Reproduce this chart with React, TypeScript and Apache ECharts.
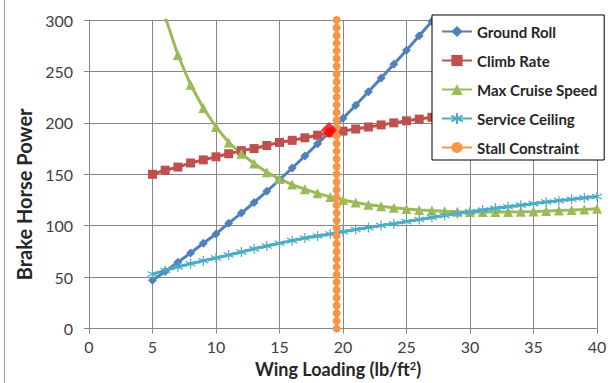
import React, { useEffect, useRef } from "react";
import * as echarts from "echarts";

const xTicks = [0, 5, 10, 15, 20, 25, 30, 35, 40];

const groundRollX = [5, 6, 7, 8, 9, 10, 11, 12, 13, 14, 15, 16, 17, 18, 19, 20, 21, 22, 23, 24, 25, 26, 27, 28];
const groundRollY = [47, 55.5, 64.5, 73.5, 83, 92, 102.5, 112.3, 122.6, 133.5, 144.7, 156.1, 167.8, 179.8, 192, 204.5, 217.2, 230.2, 243.5, 257, 270.7, 284.6, 298.7, 313];

const loadingX = [5, 6, 7, 8, 9, 10, 11, 12, 13, 14, 15, 16, 17, 18, 19, 20, 21, 22, 23, 24, 25, 26, 27, 28, 29, 30, 31, 32, 33, 34, 35, 36, 37, 38, 39, 40];
const climbRateY = [150, 154, 157, 161, 164, 167, 170, 173, 175, 178, 181, 183, 185.5, 188, 190.5, 192, 194, 196, 198, 200, 202, 203.7, 205.4, 207, 208.6, 210.2, 211.8, 213.3, 214.8, 216.3, 217.8, 219.3, 220.8, 222.3, 223.8, 225.5];
const maxCruiseY = [350, 303, 266, 237, 214.5, 196, 181, 170, 160.5, 152, 145.5, 140, 135.5, 131.5, 128, 125, 122.5, 120.5, 119, 117.5, 116.3, 115.4, 114.7, 114.1, 113.7, 113.4, 113.3, 113.3, 113.4, 113.6, 113.9, 114.3, 114.8, 115.3, 115.9, 116.6];
const serviceCeilingY = [53, 56.5, 60, 63, 66, 68.7, 71.5, 74.5, 77.5, 80.3, 83, 85.5, 88, 90, 92, 94.2, 96.3, 98.3, 100.2, 102, 104, 106, 108, 110, 111.8, 113.5, 115.2, 116.9, 118.5, 120, 121.5, 123, 124.4, 125.8, 127.1, 128.4];

const stallX = 19.5;
const stallY = [0, 7.5, 15, 22.5, 30, 37.5, 45, 52.5, 60, 67.5, 75, 82.5, 90, 97.5, 105, 112.5, 120, 127.5, 135, 142.5, 150, 157.5, 165, 172.5, 180, 187.5, 195, 202.5, 210, 217.5, 225, 232.5, 240, 247.5, 255, 262.5, 270, 277.5, 285, 292.5, 300];

const designPoint = [18.9, 193];

const seriesNames = ["Ground Roll", "Climb Rate", "Max Cruise Speed", "Service Ceiling", "Stall Constraint"];
const colors = ["#4F81BD", "#C0504D", "#9BBB59", "#4BACC6", "#F79646"];

const zip = (xs: number[], ys: number[]) => ys.map((y, i) => [xs[i], y]);

const ASTERISK = "path://M0,-5L0,5M-4.33,-2.5L4.33,2.5M-4.33,2.5L4.33,-2.5";

export default function App() {
  const ref = useRef<HTMLDivElement>(null);
  useEffect(() => {
    if (!ref.current) return;
    const chart = echarts.init(ref.current, undefined, { renderer: "svg" });
    const font = "Lato, 'Open Sans', sans-serif";
    const lineSeries = (name: string, data: number[][], color: string, symbol: string, size: number, extra: any = {}) => ({
      type: "line",
      name,
      data,
      symbol,
      symbolSize: size,
      showAllSymbol: true,
      lineStyle: { color, width: 3 },
      itemStyle: { color },
      clip: true,
      ...extra,
    });
    chart.setOption({
      animation: false,
      backgroundColor: "#ffffff",
      textStyle: { fontFamily: font },
      grid: { left: 89, right: 15, top: 20, bottom: 53 },
      legend: {
        data: seriesNames,
        orient: "vertical",
        left: 432,
        top: 15,
        padding: [9, 7, 5, 9],
        itemWidth: 30,
        itemHeight: 14,
        itemGap: 14,
        backgroundColor: "#ffffff",
        borderColor: "#000000",
        borderWidth: 1,
        textStyle: { fontFamily: font, fontSize: 15, fontWeight: "bold", color: "#262626" },
      },
      xAxis: {
        type: "value",
        min: 0,
        max: 40,
        interval: 5,
        name: "{a|Wing Loading (lb/ft}{s|2}{a|)}",
        nameLocation: "middle",
        nameGap: 29,
        nameTextStyle: {
          padding: [0, 10, 0, 0],
          rich: {
            a: { fontFamily: font, fontSize: 18, fontWeight: "bold", color: "#262626" },
            s: { fontFamily: font, fontSize: 11, fontWeight: "bold", color: "#262626", verticalAlign: "top", padding: [0, 0, 8, 0] },
          },
        },
        axisLine: { show: true, lineStyle: { color: "#868686", width: 1 } },
        axisTick: { show: true, length: 5, lineStyle: { color: "#868686" } },
        axisLabel: { fontFamily: font, fontSize: 16, color: "#404040", margin: 10 },
        splitLine: { show: true, lineStyle: { color: "#868686", width: 1 } },
        data: xTicks,
      },
      yAxis: {
        type: "value",
        min: 0,
        max: 300,
        interval: 50,
        name: "Brake Horse Power",
        nameLocation: "middle",
        nameGap: 49,
        nameTextStyle: { fontFamily: font, fontSize: 20, fontWeight: "bold", color: "#262626", padding: [0, 40, 0, 0] },
        axisLine: { show: true, lineStyle: { color: "#868686", width: 1 } },
        axisTick: { show: true, length: 5, lineStyle: { color: "#868686" } },
        axisLabel: { fontFamily: font, fontSize: 16, color: "#404040", margin: 16 },
        splitLine: { show: true, lineStyle: { color: "#868686", width: 1 } },
      },
      graphic: [
        { type: "line", shape: { x1: 4.5, y1: 0, x2: 4.5, y2: 383 }, style: { stroke: "#a0a0a0", lineWidth: 1 } },
      ],
      series: [
        lineSeries(seriesNames[0], zip(groundRollX, groundRollY), colors[0], "diamond", 9),
        lineSeries(seriesNames[1], zip(loadingX, climbRateY), colors[1], "rect", 9),
        lineSeries(seriesNames[2], zip(loadingX, maxCruiseY), colors[2], "triangle", 10),
        lineSeries(seriesNames[3], zip(loadingX, serviceCeilingY), colors[3], ASTERISK, 10, {
          itemStyle: { color: colors[3], borderColor: colors[3], borderWidth: 1.2 },
        }),
        lineSeries(seriesNames[4], stallY.map((y) => [stallX, y]), colors[4], "circle", 8),
        {
          type: "scatter",
          name: "Design Point",
          data: [designPoint],
          symbol: "diamond",
          symbolSize: 16,
          itemStyle: { color: "#FF0000" },
          z: 5,
        },
      ],
    });
    return () => chart.dispose();
  }, []);
  return <div ref={ref} style={{ position: "fixed", left: 0, top: 0, width: 612, height: 383 }} />;
}
